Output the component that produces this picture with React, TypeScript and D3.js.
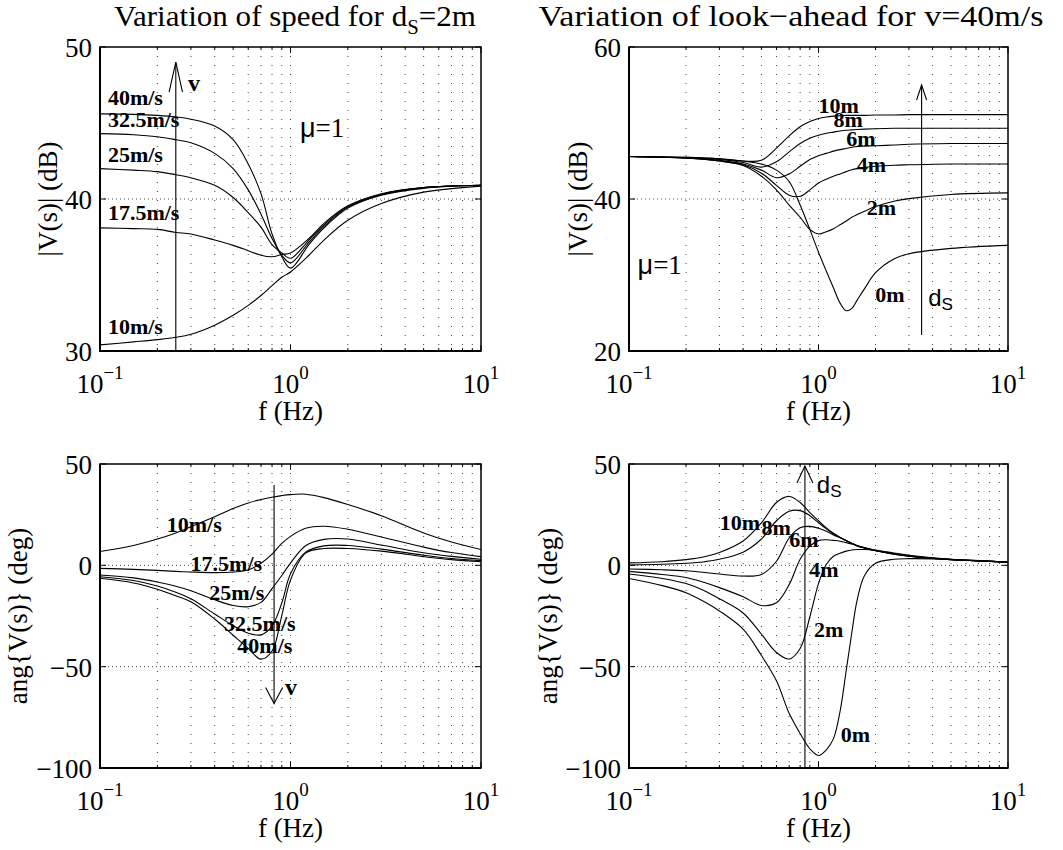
import React from "react";
import * as d3 from "d3";

const SERIF = "'Liberation Serif', 'Times New Roman', serif";
const SANS = "'Liberation Sans', Arial, sans-serif";

// log frequency axis shared by all four plots
const X_MAJOR = [0.1, 1, 10];
const X_EXP = ["\u22121", "0", "1"];
const X_MINOR = [0.2, 0.3, 0.4, 0.5, 0.6, 0.7, 0.8, 0.9, 2, 3, 4, 5, 6, 7, 8, 9];

// ---- top left: |V(s)| for several speeds, ds = 2m
const TL_F = [0.1, 0.15, 0.2, 0.25, 0.3, 0.4, 0.5, 0.6, 0.7, 0.8, 0.9, 1.0, 1.25, 1.5, 2, 3, 5, 10];
const TL_40 = [45.6, 45.57, 45.5, 45.4, 45.25, 44.8, 43.9, 42.3, 40.35, 37.7, 36.2, 35.45, 37.0, 38.1, 39.4, 40.25, 40.7, 40.9];
const TL_32 = [44.3, 44.23, 44.1, 43.9, 43.7, 43.0, 42.0, 40.6, 39.0, 37.4, 36.3, 35.8, 37.15, 38.2, 39.45, 40.3, 40.75, 40.9];
const TL_25 = [42.0, 41.9, 41.8, 41.6, 41.4, 40.9, 40.1, 39.1, 38.15, 37.0, 36.45, 36.1, 37.3, 38.3, 39.5, 40.3, 40.75, 40.9];
const TL_17 = [38.1, 38.05, 38.0, 37.8, 37.7, 37.3, 36.95, 36.6, 36.3, 36.2, 36.35, 36.45, 37.4, 38.4, 39.55, 40.35, 40.75, 40.9];
const TL_10 = [30.4, 30.6, 30.75, 30.9, 31.1, 31.7, 32.35, 33.0, 33.65, 34.3, 34.85, 35.2, 36.3, 37.3, 38.6, 39.7, 40.45, 40.85];
const SPEED_NAMES = ["40m/s", "32.5m/s", "25m/s", "17.5m/s", "10m/s"];

// ---- top right: |V(s)| for several look-ahead distances, v = 40m/s
const TR_F = [0.1, 0.2, 0.3, 0.4, 0.5, 0.6, 0.7, 0.8, 0.9, 1.0, 1.1, 1.2, 1.3, 1.4, 1.5, 1.6, 1.75, 2, 2.5, 3, 5, 10];
const TR_0 = [45.6, 45.5, 45.3, 45.0, 44.6, 43.8, 42.3, 39.2, 36.0, 33.0, 30.5, 28.3, 26.3, 25.3, 25.6, 26.7, 28.2, 30.3, 32.1, 32.8, 33.5, 33.9];
const TR_2 = [45.6, 45.4, 45.0, 44.4, 43.0, 41.2, 39.2, 37.6, 36.0, 35.4, 35.7, 36.1, 36.6, 37.1, 37.6, 37.95, 38.4, 39.0, 39.7, 40.05, 40.6, 40.8];
const TR_4 = [45.6, 45.4, 45.0, 44.5, 43.4, 41.8, 40.5, 40.35, 41.2, 42.1, 42.6, 43.0, 43.3, 43.6, 43.85, 44.0, 44.15, 44.3, 44.45, 44.5, 44.6, 44.6];
const TR_6 = [45.6, 45.4, 45.1, 44.6, 43.8, 42.8, 43.3, 44.3, 45.2, 45.7, 46.0, 46.3, 46.5, 46.65, 46.8, 46.9, 46.95, 47.0, 47.1, 47.2, 47.3, 47.3];
const TR_8 = [45.6, 45.4, 45.2, 44.8, 44.2, 44.9, 46.2, 47.3, 48.0, 48.4, 48.65, 48.8, 48.95, 49.05, 49.1, 49.15, 49.2, 49.25, 49.3, 49.3, 49.3, 49.3];
const TR_10 = [45.6, 45.5, 45.3, 45.0, 45.1, 46.7, 48.3, 49.5, 50.2, 50.6, 50.8, 50.9, 50.95, 51.0, 51.0, 51.0, 51.0, 51.05, 51.05, 51.1, 51.1, 51.1];
const DIST_NAMES = ["10m", "8m", "6m", "4m", "2m", "0m"];

// ---- bottom left: phase for several speeds
const BL_F = [0.1, 0.15, 0.2, 0.25, 0.3, 0.4, 0.5, 0.6, 0.7, 0.8, 0.9, 1.0, 1.2, 1.5, 2, 3, 5, 7, 10];
const BL_10 = [6.8, 9.8, 13, 16, 19, 24, 28, 30.8, 32.5, 33.6, 34.4, 34.9, 35.1, 33.4, 30.0, 24.5, 16, 11.5, 7.8];
const BL_17 = [-1.5, -2, -2.5, -3.0, -3.3, -3.6, -3.3, -2.3, 1.0, 5.5, 10.8, 14.3, 18.3, 19.3, 17.8, 14, 9, 6.3, 4.3];
const BL_25 = [-4.8, -6.2, -8.2, -10.3, -12.5, -17, -19.8, -20.4, -18.3, -11.5, -5, 1.1, 9.7, 12.8, 13, 10, 6.2, 4.4, 3.0];
const BL_32 = [-5.6, -7.5, -10.2, -13.3, -16.5, -24, -29.8, -33.5, -34.3, -30, -18.6, -4.2, 6.5, 9.6, 9.8, 8, 5, 3.4, 2.3];
const BL_40 = [-6.4, -8.7, -11.8, -15, -18, -26.5, -34.5, -41, -46.3, -42.3, -24.8, -7.3, 6, 8.3, 8.3, 7, 4.3, 2.8, 1.8];

// ---- bottom right: phase for several look-ahead distances
const BR_F = [0.1, 0.15, 0.2, 0.25, 0.3, 0.4, 0.5, 0.6, 0.7, 0.8, 0.9, 1.0, 1.1, 1.2, 1.3, 1.4, 1.5, 1.6, 1.75, 2, 2.5, 3, 5, 7, 10];
const BR_10 = [1.2, 1.8, 2.8, 4.2, 6.3, 12, 21, 31, 34, 31, 26, 22, 18.5, 15.8, 13.8, 12.2, 10.8, 9.6, 8.5, 7.2, 5.5, 4.5, 2.8, 2.2, 1.6];
const BR_8 = [0.2, 0.5, 1.0, 1.8, 3.0, 6.5, 13, 22, 26.7, 27, 24.5, 21, 18, 15.5, 13.7, 12.2, 10.8, 9.6, 8.5, 7.2, 5.5, 4.5, 2.8, 2.2, 1.6];
const BR_6 = [-1.8, -2.2, -2.7, -3.5, -4.3, -5.3, -4.5, 2.0, 13.5, 18.5, 19.2, 18.3, 16.8, 15.0, 13.6, 12.1, 10.8, 9.7, 8.6, 7.3, 5.6, 4.6, 2.8, 2.2, 1.6];
const BR_4 = [-3, -4.5, -6, -8.5, -11, -15.5, -19.8, -18.5, -9.5, 3, 9.5, 12.2, 12.6, 12.3, 11.9, 11.2, 10.5, 9.7, 8.8, 7.5, 5.8, 4.7, 2.9, 2.2, 1.6];
const BR_2 = [-4.3, -6.5, -9, -12.5, -16.5, -23.5, -34, -43, -46.2, -41, -25.5, -9, 0.5, 4.5, 6.0, 7.0, 7.6, 7.8, 7.8, 7.4, 6.1, 5.0, 3.0, 2.3, 1.6];
const BR_0 = [-6.5, -10, -13.5, -18, -22.5, -31.5, -44.5, -57, -73, -83, -90.5, -93.8, -91, -85.5, -72, -52, -33, -17, -5, 1.0, 3.0, 3.3, 3.0, 2.3, 1.6];

const MAG_TICKS_L = [30, 40, 50];
const MAG_TICKS_R = [20, 40, 60];
const PHASE_TICKS = [-100, -50, 0, 50];
const fmt = (v: number) => (v < 0 ? "\u2212" + Math.abs(v) : String(v));

type Box = { x0: number; x1: number; y0: number; y1: number };
type Scales = { xs: d3.ScaleLogarithmic<number, number>; ys: d3.ScaleLinear<number, number> };

function zip(f: number[], v: number[]): [number, number][] {
  return f.map((x, i) => [x, v[i]]);
}

function Arrow({ x, yTail, yTip, hw, hl }: { x: number; yTail: number; yTip: number; hw: number; hl: number }) {
  const dir = yTip < yTail ? 1 : -1;
  return (
    <g stroke="#000" strokeWidth={1.1} fill="none">
      <line x1={x} y1={yTail} x2={x} y2={yTip} />
      <polyline points={`${x - hw},${yTip + dir * hl} ${x},${yTip} ${x + hw},${yTip + dir * hl}`} />
    </g>
  );
}

function Panel(props: {
  id: string;
  box: Box;
  yDomain: [number, number];
  yTicks: number[];
  ylabel: string;
  ylabelX: number;
  curves: [number, number][][];
  children: (s: Scales) => React.ReactNode;
}) {
  const { id, box, yDomain, yTicks, ylabel, ylabelX, curves } = props;
  const xs = d3.scaleLog().domain([0.1, 10]).range([box.x0, box.x1]);
  const ys = d3.scaleLinear().domain(yDomain).range([box.y1, box.y0]);
  const line = d3
    .line<[number, number]>()
    .x((d) => xs(d[0]))
    .y((d) => ys(d[1]))
    .curve(d3.curveCatmullRom.alpha(0.5));
  const gridX = [...X_MINOR, 1];
  const gridY = yTicks.filter((t) => t !== yDomain[0] && t !== yDomain[1]);
  const cx = (box.x0 + box.x1) / 2;
  const cy = (box.y0 + box.y1) / 2;
  return (
    <g>
      <defs>
        <clipPath id={id}>
          <rect x={box.x0} y={box.y0} width={box.x1 - box.x0} height={box.y1 - box.y0} />
        </clipPath>
      </defs>
      {/* dotted grid */}
      <g stroke="#444" strokeWidth={1}>
        {gridX.map((t) => (
          <line key={"gx" + t} x1={xs(t)} x2={xs(t)} y1={box.y0} y2={box.y1} strokeDasharray="1 8" />
        ))}
        {gridY.map((t) => (
          <line key={"gy" + t} x1={box.x0} x2={box.x1} y1={ys(t)} y2={ys(t)} strokeDasharray="1 3" />
        ))}
      </g>
      {/* ticks */}
      <g stroke="#000" strokeWidth={1}>
        {X_MINOR.map((t) => (
          <g key={"mt" + t}>
            <line x1={xs(t)} x2={xs(t)} y1={box.y1} y2={box.y1 - 3} />
            <line x1={xs(t)} x2={xs(t)} y1={box.y0} y2={box.y0 + 3} />
          </g>
        ))}
        {X_MAJOR.map((t) => (
          <g key={"Mt" + t}>
            <line x1={xs(t)} x2={xs(t)} y1={box.y1} y2={box.y1 - 6} />
            <line x1={xs(t)} x2={xs(t)} y1={box.y0} y2={box.y0 + 6} />
          </g>
        ))}
        {yTicks.map((t) => (
          <g key={"yt" + t}>
            <line x1={box.x0} x2={box.x0 + 6} y1={ys(t)} y2={ys(t)} />
            <line x1={box.x1} x2={box.x1 - 6} y1={ys(t)} y2={ys(t)} />
          </g>
        ))}
      </g>
      {/* curves */}
      <g clipPath={`url(#${id})`} fill="none" stroke="#000" strokeWidth={1.1}>
        {curves.map((c, i) => (
          <path key={i} d={line(c) || ""} />
        ))}
      </g>
      {/* frame */}
      <rect x={box.x0} y={box.y0} width={box.x1 - box.x0} height={box.y1 - box.y0} fill="none" stroke="#000" strokeWidth={1.5} />
      <line x1={box.x0} x2={box.x0} y1={box.y0} y2={box.y1 + 1} stroke="#000" strokeWidth={2} />
      <line x1={box.x0 - 1} x2={box.x1} y1={box.y1} y2={box.y1} stroke="#000" strokeWidth={2} />
      {/* tick labels */}
      <g fontFamily={SERIF} fontSize={27} fill="#000">
        {yTicks.map((t) => (
          <text key={"yl" + t} x={box.x0 - 8} y={ys(t) + 10} textAnchor="end">
            {fmt(t)}
          </text>
        ))}
        {X_MAJOR.map((t, i) => (
          <text key={"xl" + t} x={xs(t)} y={box.y1 + 42} textAnchor="middle">
            10
            <tspan dy={-14} fontSize={19}>
              {X_EXP[i]}
            </tspan>
          </text>
        ))}
        <text x={cx} y={box.y1 + 69} textAnchor="middle">
          f (Hz)
        </text>
        <text transform={`translate(${ylabelX},${cy}) rotate(-90)`} textAnchor="middle">
          {ylabel}
        </text>
      </g>
      {props.children({ xs, ys })}
    </g>
  );
}

const BOLD = { fontFamily: SERIF, fontSize: 22, fontWeight: 700 } as const;

function Lbl({ s, f, v, t }: { s: Scales; f: number; v: number; t: string }) {
  return (
    <text x={s.xs(f)} y={s.ys(v)} {...BOLD}>
      {t}
    </text>
  );
}

function Mu({ s, f, v }: { s: Scales; f: number; v: number }) {
  return (
    <text x={s.xs(f)} y={s.ys(v)} fontFamily={SERIF} fontSize={27}>
      <tspan fontFamily={SANS}>{"\u03bc"}</tspan>=1
    </text>
  );
}

function DS({ s, f, v }: { s: Scales; f: number; v: number }) {
  return (
    <text x={s.xs(f)} y={s.ys(v)} fontFamily={SANS} fontSize={24}>
      d
      <tspan dy={4} fontSize={17}>
        S
      </tspan>
    </text>
  );
}

const TL_BOX: Box = { x0: 100, x1: 481, y0: 47, y1: 351 };
const TR_BOX: Box = { x0: 629, x1: 1008, y0: 47, y1: 351 };
const BL_BOX: Box = { x0: 100, x1: 481, y0: 464, y1: 768 };
const BR_BOX: Box = { x0: 629, x1: 1008, y0: 464, y1: 768 };

export default function App() {
  const tl = [TL_40, TL_32, TL_25, TL_17, TL_10].map((v) => zip(TL_F, v));
  const tr = [TR_10, TR_8, TR_6, TR_4, TR_2, TR_0].map((v) => zip(TR_F, v));
  const bl = [BL_10, BL_17, BL_25, BL_32, BL_40].map((v) => zip(BL_F, v));
  const br = [BR_10, BR_8, BR_6, BR_4, BR_2, BR_0].map((v) => zip(BR_F, v));

  // label anchors in data units [f, value]
  const tlLab: [number, number][] = [[0.11, 46.18], [0.11, 44.74], [0.11, 42.43], [0.11, 38.62], [0.11, 31.12]];
  const trLab: [number, number][] = [[1.0, 51.3], [1.2, 49.5], [1.4, 47.0], [1.59, 43.55], [1.8, 37.9], [1.99, 26.5]];
  const blLab: [number, number][] = [[0.224, 16.6], [0.299, -2.7], [0.375, -17.1], [0.448, -32.3], [0.526, -43.4]];
  const blNames = [...SPEED_NAMES].reverse();
  const brLab: [number, number][] = [[0.301, 17.4], [0.501, 14.9], [0.701, 9.2], [0.894, -5.6], [0.946, -35.2], [1.31, -87.0]];

  return (
    <svg width={1063} height={850} style={{ position: "absolute", left: 0, top: 0, background: "#fff" }}>
      <rect width={1063} height={850} fill="#fff" />
      <g fontFamily={SERIF} fontSize={30} fill="#000">
        <text x={295} y={26} textAnchor="middle" textLength={362} lengthAdjust="spacingAndGlyphs">
          Variation of speed for d
          <tspan dy={8} fontSize={20}>
            S
          </tspan>
          <tspan dy={-8}>=2m</tspan>
        </text>
        <text x={791} y={26} textAnchor="middle" textLength={505} lengthAdjust="spacingAndGlyphs">
          Variation of look{"\u2212"}ahead for v=40m/s
        </text>
      </g>

      <Panel id="c1" box={TL_BOX} yDomain={[30, 50]} yTicks={MAG_TICKS_L} ylabel="|V(s)| (dB)" ylabelX={57} curves={tl}>
        {(s) => (
          <g>
            {SPEED_NAMES.map((n, i) => (
              <Lbl key={n} s={s} f={tlLab[i][0]} v={tlLab[i][1]} t={n} />
            ))}
            <Arrow x={s.xs(0.25)} yTail={s.ys(30)} yTip={s.ys(49)} hw={6.7} hl={30} />
            <text x={s.xs(0.29)} y={s.ys(47.1)} fontFamily={SERIF} fontWeight={700} fontSize={24}>
              v
            </text>
            <Mu s={s} f={1.12} v={44.08} />
          </g>
        )}
      </Panel>

      <Panel id="c2" box={TR_BOX} yDomain={[20, 60]} yTicks={MAG_TICKS_R} ylabel="|V(s)| (dB)" ylabelX={587} curves={tr}>
        {(s) => (
          <g>
            {DIST_NAMES.map((n, i) => (
              <Lbl key={n} s={s} f={trLab[i][0]} v={trLab[i][1]} t={n} />
            ))}
            <Arrow x={s.xs(3.5)} yTail={s.ys(22.1)} yTip={s.ys(55)} hw={5} hl={15} />
            <DS s={s} f={3.79} v={25.9} />
            <Mu s={s} f={0.111} v={30.1} />
          </g>
        )}
      </Panel>

      <Panel id="c3" box={BL_BOX} yDomain={[-100, 50]} yTicks={PHASE_TICKS} ylabel="ang{V(s)} (deg)" ylabelX={27} curves={bl}>
        {(s) => (
          <g>
            {blNames.map((n, i) => (
              <Lbl key={n} s={s} f={blLab[i][0]} v={blLab[i][1]} t={n} />
            ))}
            <Arrow x={s.xs(0.82)} yTail={s.ys(39.6)} yTip={s.ys(-68.2)} hw={8.5} hl={16} />
            <text x={s.xs(0.935)} y={s.ys(-64)} fontFamily={SERIF} fontWeight={700} fontSize={24}>
              v
            </text>
          </g>
        )}
      </Panel>

      <Panel id="c4" box={BR_BOX} yDomain={[-100, 50]} yTicks={PHASE_TICKS} ylabel="ang{V(s)} (deg)" ylabelX={557} curves={br}>
        {(s) => (
          <g>
            {DIST_NAMES.map((n, i) => (
              <Lbl key={n} s={s} f={brLab[i][0]} v={brLab[i][1]} t={n} />
            ))}
            <Arrow x={s.xs(0.848)} yTail={s.ys(-100)} yTip={s.ys(49)} hw={8} hl={17} />
            <DS s={s} f={0.98} v={35.8} />
          </g>
        )}
      </Panel>
    </svg>
  );
}
